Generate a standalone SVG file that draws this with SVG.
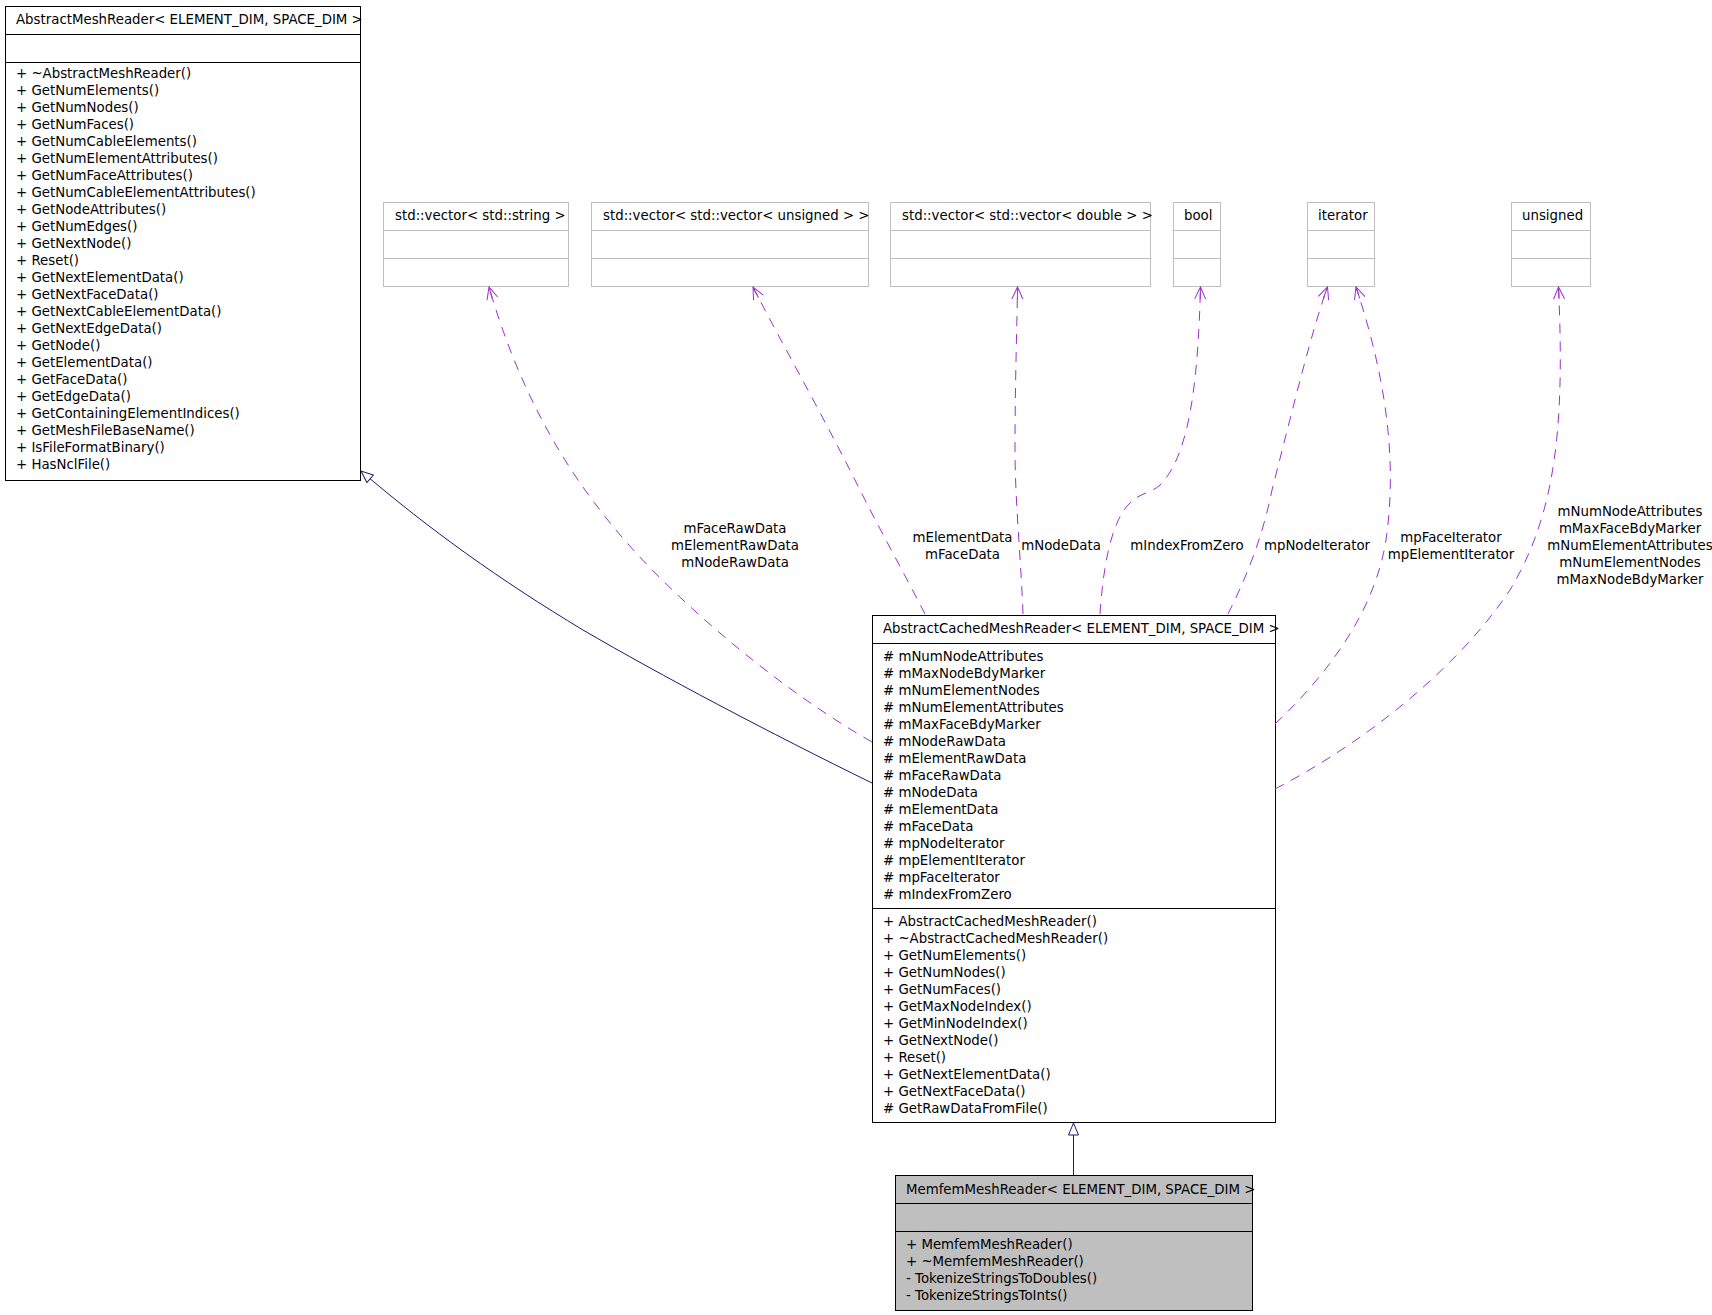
<svg xmlns="http://www.w3.org/2000/svg" width="1712" height="1315" viewBox="0 0 1712 1315">
<style>
text{font-family:"DejaVu Sans","Liberation Sans",sans-serif;font-size:13.33px;fill:#000}
.lbl{text-anchor:middle}
.box{fill:#fff;stroke:#000;stroke-width:1}
.cur{fill:#bfbfbf;stroke:#000;stroke-width:1}
.ext{fill:#fff;stroke:#bfbfbf;stroke-width:1}
.sep{stroke:#000;stroke-width:1}
.sepg{stroke:#bfbfbf;stroke-width:1}
.inh{fill:none;stroke:#191970;stroke-width:1;marker-end:url(#tri)}
.use{fill:none;stroke:#9a32cd;stroke-width:1;stroke-dasharray:10,8;marker-end:url(#vee)}
</style>
<defs>
<marker id="tri" markerUnits="userSpaceOnUse" orient="auto" markerWidth="30" markerHeight="30" refX="0" refY="0" overflow="visible">
<path d="M-12,-5 L0,0 L-12,5 Z" fill="#fff" stroke="#191970" stroke-width="1"/>
</marker>
<marker id="vee" markerUnits="userSpaceOnUse" orient="auto" markerWidth="30" markerHeight="30" refX="0" refY="0" overflow="visible">
<path d="M-12,-5.5 L0,0 L-12,5.5 M-12,0 L0,0" fill="none" stroke="#9a32cd" stroke-width="1"/>
</marker>
</defs>
<rect x="0" y="0" width="1712" height="1315" fill="#fff"/>

<g id="AbstractMeshReader">
<rect class="box" x="5.5" y="6.5" width="355" height="474"/>
<line class="sep" x1="5.5" y1="34.5" x2="360.5" y2="34.5"/>
<line class="sep" x1="5.5" y1="62.5" x2="360.5" y2="62.5"/>
<text x="16" y="24">AbstractMeshReader&lt; ELEMENT_DIM, SPACE_DIM &gt;</text>
<text x="16" y="78"><tspan x="16">+ ~AbstractMeshReader()</tspan><tspan x="16" dy="17">+ GetNumElements()</tspan><tspan x="16" dy="17">+ GetNumNodes()</tspan><tspan x="16" dy="17">+ GetNumFaces()</tspan><tspan x="16" dy="17">+ GetNumCableElements()</tspan><tspan x="16" dy="17">+ GetNumElementAttributes()</tspan><tspan x="16" dy="17">+ GetNumFaceAttributes()</tspan><tspan x="16" dy="17">+ GetNumCableElementAttributes()</tspan><tspan x="16" dy="17">+ GetNodeAttributes()</tspan><tspan x="16" dy="17">+ GetNumEdges()</tspan><tspan x="16" dy="17">+ GetNextNode()</tspan><tspan x="16" dy="17">+ Reset()</tspan><tspan x="16" dy="17">+ GetNextElementData()</tspan><tspan x="16" dy="17">+ GetNextFaceData()</tspan><tspan x="16" dy="17">+ GetNextCableElementData()</tspan><tspan x="16" dy="17">+ GetNextEdgeData()</tspan><tspan x="16" dy="17">+ GetNode()</tspan><tspan x="16" dy="17">+ GetElementData()</tspan><tspan x="16" dy="17">+ GetFaceData()</tspan><tspan x="16" dy="17">+ GetEdgeData()</tspan><tspan x="16" dy="17">+ GetContainingElementIndices()</tspan><tspan x="16" dy="17">+ GetMeshFileBaseName()</tspan><tspan x="16" dy="17">+ IsFileFormatBinary()</tspan><tspan x="16" dy="17">+ HasNclFile()</tspan></text>
</g>

<g id="vec_string">
<rect class="ext" x="383.5" y="202.5" width="185" height="84"/>
<line class="sepg" x1="383.5" y1="230.5" x2="568.5" y2="230.5"/>
<line class="sepg" x1="383.5" y1="258.5" x2="568.5" y2="258.5"/>
<text x="395" y="220">std::vector&lt; std::string &gt;</text>
</g>
<g id="vec_vec_unsigned">
<rect class="ext" x="591.5" y="202.5" width="277" height="84"/>
<line class="sepg" x1="591.5" y1="230.5" x2="868.5" y2="230.5"/>
<line class="sepg" x1="591.5" y1="258.5" x2="868.5" y2="258.5"/>
<text x="603" y="220">std::vector&lt; std::vector&lt; unsigned &gt; &gt;</text>
</g>
<g id="vec_vec_double">
<rect class="ext" x="890.5" y="202.5" width="260" height="84"/>
<line class="sepg" x1="890.5" y1="230.5" x2="1150.5" y2="230.5"/>
<line class="sepg" x1="890.5" y1="258.5" x2="1150.5" y2="258.5"/>
<text x="902" y="220">std::vector&lt; std::vector&lt; double &gt; &gt;</text>
</g>
<g id="bool">
<rect class="ext" x="1173.5" y="202.5" width="47" height="84"/>
<line class="sepg" x1="1173.5" y1="230.5" x2="1220.5" y2="230.5"/>
<line class="sepg" x1="1173.5" y1="258.5" x2="1220.5" y2="258.5"/>
<text x="1184" y="220">bool</text>
</g>
<g id="iterator">
<rect class="ext" x="1307.5" y="202.5" width="67" height="84"/>
<line class="sepg" x1="1307.5" y1="230.5" x2="1374.5" y2="230.5"/>
<line class="sepg" x1="1307.5" y1="258.5" x2="1374.5" y2="258.5"/>
<text x="1318" y="220">iterator</text>
</g>
<g id="unsigned">
<rect class="ext" x="1511.5" y="202.5" width="79" height="84"/>
<line class="sepg" x1="1511.5" y1="230.5" x2="1590.5" y2="230.5"/>
<line class="sepg" x1="1511.5" y1="258.5" x2="1590.5" y2="258.5"/>
<text x="1522" y="220">unsigned</text>
</g>

<g id="AbstractCachedMeshReader">
<rect class="box" x="872.5" y="615.5" width="403" height="507"/>
<line class="sep" x1="872.5" y1="643.5" x2="1275.5" y2="643.5"/>
<line class="sep" x1="872.5" y1="908.5" x2="1275.5" y2="908.5"/>
<text x="883" y="633">AbstractCachedMeshReader&lt; ELEMENT_DIM, SPACE_DIM &gt;</text>
<text x="883" y="661"><tspan x="883"># mNumNodeAttributes</tspan><tspan x="883" dy="17"># mMaxNodeBdyMarker</tspan><tspan x="883" dy="17"># mNumElementNodes</tspan><tspan x="883" dy="17"># mNumElementAttributes</tspan><tspan x="883" dy="17"># mMaxFaceBdyMarker</tspan><tspan x="883" dy="17"># mNodeRawData</tspan><tspan x="883" dy="17"># mElementRawData</tspan><tspan x="883" dy="17"># mFaceRawData</tspan><tspan x="883" dy="17"># mNodeData</tspan><tspan x="883" dy="17"># mElementData</tspan><tspan x="883" dy="17"># mFaceData</tspan><tspan x="883" dy="17"># mpNodeIterator</tspan><tspan x="883" dy="17"># mpElementIterator</tspan><tspan x="883" dy="17"># mpFaceIterator</tspan><tspan x="883" dy="17"># mIndexFromZero</tspan></text>
<text x="883" y="926"><tspan x="883">+ AbstractCachedMeshReader()</tspan><tspan x="883" dy="17">+ ~AbstractCachedMeshReader()</tspan><tspan x="883" dy="17">+ GetNumElements()</tspan><tspan x="883" dy="17">+ GetNumNodes()</tspan><tspan x="883" dy="17">+ GetNumFaces()</tspan><tspan x="883" dy="17">+ GetMaxNodeIndex()</tspan><tspan x="883" dy="17">+ GetMinNodeIndex()</tspan><tspan x="883" dy="17">+ GetNextNode()</tspan><tspan x="883" dy="17">+ Reset()</tspan><tspan x="883" dy="17">+ GetNextElementData()</tspan><tspan x="883" dy="17">+ GetNextFaceData()</tspan><tspan x="883" dy="17"># GetRawDataFromFile()</tspan></text>
</g>

<g id="MemfemMeshReader">
<rect class="cur" x="895.5" y="1175.5" width="357" height="135"/>
<line class="sep" x1="895.5" y1="1203.5" x2="1252.5" y2="1203.5"/>
<line class="sep" x1="895.5" y1="1231.5" x2="1252.5" y2="1231.5"/>
<text x="906" y="1194">MemfemMeshReader&lt; ELEMENT_DIM, SPACE_DIM &gt;</text>
<text x="906" y="1249"><tspan x="906">+ MemfemMeshReader()</tspan><tspan x="906" dy="17">+ ~MemfemMeshReader()</tspan><tspan x="906" dy="17">- TokenizeStringsToDoubles()</tspan><tspan x="906" dy="17">- TokenizeStringsToInts()</tspan></text>
</g>

<g id="connectors">
<path class="inh" d="M872,783 C770,733 660,675 583,630 C500,580 430,530 361,471"/>
<path class="inh" d="M1073.5,1175 L1073.5,1123"/>
<path class="use" d="M872,742 C780,690 660,590 600,510 C545,440 510,360 489,287"/>
<path class="use" d="M925,614 C905,575 880,530 860,490 C820,410 780,340 753,287"/>
<path class="use" d="M1023,614 C1021,560 1015,500 1015,450 C1015,380 1017,330 1017.5,287"/>
<path class="use" d="M1100,614 C1103,570 1110,525 1128,505 C1140,492 1150,494 1160,485 C1190,455 1198,380 1200.5,287"/>
<path class="use" d="M1228,614 C1245,580 1262,540 1272,490 C1295,400 1312,330 1327.5,287"/>
<path class="use" d="M1275,724 C1330,672 1375,610 1386,540 C1396,470 1390,390 1356,287"/>
<path class="use" d="M1275,789 C1360,745 1455,672 1510,590 C1555,515 1565,430 1558.5,287"/>
<text class="lbl" x="735" y="533"><tspan x="735">mFaceRawData</tspan><tspan x="735" dy="17">mElementRawData</tspan><tspan x="735" dy="17">mNodeRawData</tspan></text>
<text class="lbl" x="962.5" y="542"><tspan x="962.5">mElementData</tspan><tspan x="962.5" dy="17">mFaceData</tspan></text>
<text class="lbl" x="1061" y="550">mNodeData</text>
<text class="lbl" x="1187" y="550">mIndexFromZero</text>
<text class="lbl" x="1317" y="550">mpNodeIterator</text>
<text class="lbl" x="1451" y="542"><tspan x="1451">mpFaceIterator</tspan><tspan x="1451" dy="17">mpElementIterator</tspan></text>
<text class="lbl" x="1630" y="516"><tspan x="1630">mNumNodeAttributes</tspan><tspan x="1630" dy="17">mMaxFaceBdyMarker</tspan><tspan x="1630" dy="17">mNumElementAttributes</tspan><tspan x="1630" dy="17">mNumElementNodes</tspan><tspan x="1630" dy="17">mMaxNodeBdyMarker</tspan></text>
</g>
</svg>
